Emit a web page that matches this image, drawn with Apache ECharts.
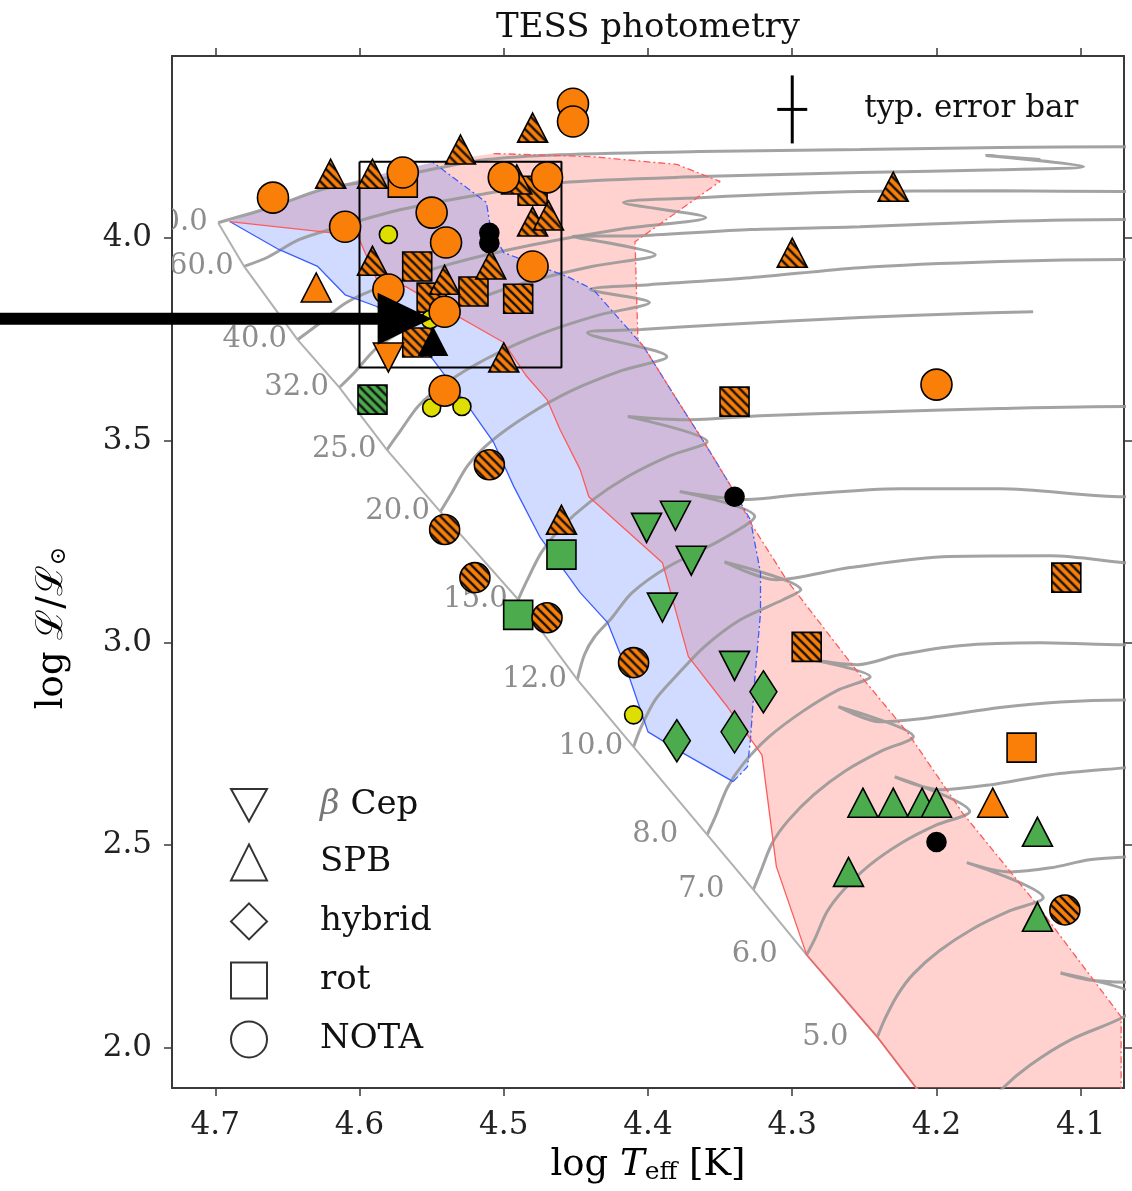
<!DOCTYPE html>
<html><head><meta charset="utf-8">
<script src="https://cdn.jsdelivr.net/npm/echarts@6/dist/echarts.min.js"></script>
<style>html,body{margin:0;padding:0;background:#fff}#c{width:1132px;height:1191px}</style>
</head><body><div id="c"></div>
<script>
// ---------------- data ----------------
const xTicks = [4.1, 4.2, 4.3, 4.4, 4.5, 4.6, 4.7];
const yTicks = [2.0, 2.5, 3.0, 3.5, 4.0];

const zams = [[4.698,4.038],[4.680,3.930],[4.643,3.749],[4.614,3.631],[4.581,3.477],[4.544,3.324],[4.490,3.107],[4.449,2.909],[4.410,2.743],[4.359,2.526],[4.327,2.390],[4.290,2.229],[4.241,2.026],[4.214,1.900],[4.201,1.846]];
const massLabels = ['80.0','60.0','40.0','32.0','25.0','20.0','15.0','12.0','10.0','8.0','7.0','6.0','5.0'];

const track4 = [[4.166,1.846],[4.154,1.900],[4.135,1.957],[4.107,2.019],[4.070,2.076],[4.056,2.118],[4.114,2.184],[4.094,2.167],[4.059,2.160]];
const track5 = [[4.241,2.026],[4.236,2.069],[4.227,2.130],[4.216,2.182],[4.198,2.239],[4.175,2.293],[4.149,2.338],[4.126,2.370],[4.179,2.457],[4.149,2.434],[4.121,2.444],[4.094,2.464],[4.070,2.471],[4.059,2.474]];
const track6 = [[4.290,2.229],[4.284,2.271],[4.276,2.335],[4.265,2.387],[4.247,2.449],[4.224,2.506],[4.200,2.550],[4.177,2.583],[4.229,2.669],[4.198,2.637],[4.163,2.649],[4.121,2.674],[4.070,2.691],[4.059,2.694]];
const track7 = [[4.327,2.390],[4.322,2.434],[4.314,2.504],[4.303,2.560],[4.285,2.625],[4.263,2.684],[4.238,2.733],[4.216,2.768],[4.268,2.842],[4.239,2.805],[4.205,2.815],[4.156,2.840],[4.114,2.854],[4.070,2.859],[4.059,2.859]];
const track8 = [[4.359,2.526],[4.353,2.573],[4.345,2.642],[4.334,2.701],[4.316,2.768],[4.293,2.830],[4.269,2.882],[4.246,2.916],[4.286,2.958],[4.255,2.946],[4.225,2.971],[4.184,2.993],[4.128,3.000],[4.070,2.995],[4.059,2.995]];
const track10 = [[4.410,2.743],[4.405,2.790],[4.395,2.859],[4.381,2.916],[4.361,2.990],[4.336,3.057],[4.306,3.107],[4.294,3.131],[4.347,3.200],[4.311,3.156],[4.260,3.186],[4.191,3.213],[4.121,3.215],[4.070,3.198],[4.059,3.195]];
const track12 = [[4.449,2.909],[4.444,2.971],[4.437,3.015],[4.425,3.062],[4.411,3.124],[4.386,3.188],[4.349,3.255],[4.326,3.312],[4.378,3.374],[4.331,3.354],[4.295,3.366],[4.225,3.381],[4.156,3.381],[4.070,3.361],[4.059,3.361]];
const track15 = [[4.490,3.107],[4.484,3.153],[4.474,3.223],[4.461,3.282],[4.440,3.349],[4.414,3.411],[4.385,3.462],[4.359,3.497],[4.414,3.559],[4.374,3.551],[4.322,3.561],[4.236,3.571],[4.156,3.579],[4.070,3.584],[4.059,3.584]];
const track20 = [[4.544,3.324],[4.536,3.371],[4.525,3.438],[4.509,3.497],[4.484,3.561],[4.453,3.623],[4.418,3.673],[4.387,3.707],[4.442,3.766],[4.405,3.774],[4.350,3.786],[4.253,3.804],[4.184,3.813],[4.133,3.818]];
const track25 = [[4.581,3.477],[4.572,3.522],[4.559,3.586],[4.541,3.640],[4.512,3.702],[4.475,3.762],[4.435,3.809],[4.399,3.841],[4.440,3.873],[4.399,3.885],[4.329,3.902],[4.253,3.927],[4.156,3.942],[4.070,3.947],[4.059,3.947]];
const track32 = [[4.614,3.631],[4.603,3.670],[4.588,3.729],[4.566,3.779],[4.531,3.833],[4.487,3.888],[4.439,3.930],[4.395,3.959],[4.452,4.004],[4.405,4.006],[4.329,4.021],[4.253,4.028],[4.156,4.041],[4.070,4.046],[4.059,4.046]];
const track40 = [[4.643,3.749],[4.629,3.786],[4.609,3.841],[4.581,3.885],[4.536,3.937],[4.479,3.984],[4.417,4.023],[4.360,4.051],[4.417,4.088],[4.364,4.100],[4.253,4.115],[4.156,4.117],[4.070,4.115],[4.059,4.115]];
const track60 = [[4.680,3.930],[4.663,3.954],[4.642,3.996],[4.614,4.028],[4.572,4.070],[4.516,4.108],[4.461,4.137],[4.364,4.152],[4.253,4.162],[4.156,4.169],[4.098,4.177],[4.166,4.204],[4.128,4.194]];
const track80 = [[4.698,4.038],[4.660,4.078],[4.626,4.120],[4.600,4.137],[4.558,4.164],[4.512,4.194],[4.461,4.206],[4.364,4.214],[4.253,4.219],[4.156,4.224],[4.070,4.226],[4.059,4.226]];

// instability regions
const blueRegion = [[4.690,4.041],[4.660,4.080],[4.626,4.120],[4.586,4.157],[4.549,4.187],[4.512,4.088],[4.509,4.021],[4.500,3.964],[4.456,3.905],[4.438,3.873],[4.403,3.732],[4.380,3.601],[4.361,3.495],[4.341,3.378],[4.329,3.304],[4.322,3.173],[4.322,3.074],[4.326,2.909],[4.329,2.760],[4.331,2.694],[4.341,2.657],[4.376,2.728],[4.400,2.780],[4.414,2.926],[4.428,3.050],[4.447,3.124],[4.475,3.262],[4.493,3.386],[4.507,3.495],[4.523,3.576],[4.549,3.700],[4.588,3.831],[4.610,3.860],[4.629,3.930],[4.656,3.972]];
const blueSolid = [[4.690,4.041],[4.656,3.972],[4.629,3.930],[4.610,3.860],[4.588,3.831],[4.549,3.700],[4.523,3.576],[4.507,3.495],[4.493,3.386],[4.475,3.262],[4.447,3.124],[4.428,3.050],[4.414,2.926],[4.400,2.780],[4.376,2.728],[4.341,2.657]];
const blueDashed = [[4.341,2.657],[4.331,2.694],[4.329,2.760],[4.326,2.909],[4.322,3.074],[4.322,3.173],[4.329,3.304],[4.341,3.378],[4.361,3.495],[4.380,3.601],[4.403,3.732],[4.438,3.873],[4.456,3.905],[4.500,3.964],[4.509,4.021],[4.512,4.088],[4.549,4.187]];
const redRegion = [[4.690,4.041],[4.660,4.080],[4.626,4.120],[4.586,4.157],[4.549,4.187],[4.507,4.209],[4.438,4.201],[4.380,4.182],[4.350,4.140],[4.409,3.991],[4.407,3.749],[4.403,3.732],[4.380,3.601],[4.361,3.495],[4.341,3.378],[4.329,3.297],[4.304,3.156],[4.252,2.916],[4.220,2.778],[4.182,2.580],[4.133,2.365],[4.072,2.076],[4.072,1.846],[4.201,1.846],[4.214,1.900],[4.241,2.026],[4.290,2.229],[4.311,2.447],[4.321,2.723],[4.345,2.842],[4.372,2.966],[4.390,3.198],[4.441,3.361],[4.447,3.428],[4.461,3.527],[4.470,3.601],[4.484,3.658],[4.500,3.742],[4.568,3.880],[4.588,3.897],[4.601,4.004],[4.622,4.014]];
const redSolid = [[4.690,4.041],[4.622,4.014],[4.601,4.004],[4.588,3.897],[4.568,3.880],[4.500,3.742],[4.484,3.658],[4.470,3.601],[4.461,3.527],[4.447,3.428],[4.441,3.361],[4.390,3.198],[4.372,2.966],[4.345,2.842],[4.321,2.723],[4.311,2.447],[4.290,2.229],[4.241,2.026],[4.214,1.900],[4.201,1.846]];
const redDashed = [[4.507,4.209],[4.438,4.201],[4.380,4.182],[4.350,4.140],[4.409,3.991],[4.407,3.749],[4.403,3.732],[4.380,3.601],[4.361,3.495],[4.341,3.378],[4.329,3.297],[4.304,3.156],[4.252,2.916],[4.220,2.778],[4.182,2.580],[4.133,2.365],[4.072,2.076],[4.072,1.846]];

const zoomBox = [[4.600,4.189],[4.460,4.189],[4.460,3.680],[4.600,3.680],[4.600,4.189]];
const errorBarCenter = [4.300, 4.318];
const errorBarHalf = [0.0104, 0.084];
const errorBarText = [4.250, 4.318];
const arrowTail = [4.870, 3.801];
const arrowTip = [4.550, 3.801];

// stars
const orangeCircles = [[4.660,4.100],[4.570,4.162],[4.452,4.332],[4.452,4.288],[4.610,4.028],[4.550,4.063],[4.540,3.989],[4.500,4.150],[4.470,4.150],[4.480,3.930],[4.580,3.873],[4.541,3.818],[4.541,3.623],[4.200,3.638]];
const orangeTriUp = [[4.630,3.878],[4.161,2.605]];
const orangeTriDown = [[4.580,3.705]];
const orangeSquares = [[4.570,4.137],[4.141,2.741]];
const hatchTriUp = [[4.620,4.159],[4.591,4.159],[4.530,4.219],[4.480,4.273],[4.491,4.145],[4.480,4.041],[4.469,4.056],[4.591,3.944],[4.541,3.897],[4.509,3.935],[4.500,3.705],[4.460,3.304],[4.230,4.127],[4.300,3.964]];
const hatchSquares = [[4.480,4.117],[4.560,3.930],[4.521,3.868],[4.490,3.850],[4.550,3.853],[4.560,3.742],[4.340,3.596],[4.110,3.161],[4.290,2.990]];
const hatchCircles = [[4.510,3.440],[4.541,3.280],[4.520,3.161],[4.470,3.062],[4.410,2.951],[4.111,2.340]];
const greenTriDown = [[4.401,3.284],[4.381,3.314],[4.370,3.203],[4.390,3.087],[4.340,2.943]];
const greenTriUp = [[4.251,2.605],[4.230,2.605],[4.210,2.605],[4.200,2.605],[4.130,2.533],[4.261,2.434],[4.130,2.323]];
const greenDiamonds = [[4.380,2.758],[4.340,2.780],[4.320,2.879]];
const greenSquares = [[4.460,3.218],[4.490,3.069]];
const greenHatchSquares = [[4.591,3.601]];
const yellowCircles = [[4.580,4.009],[4.551,3.799],[4.550,3.581],[4.529,3.584],[4.410,2.822]];
const blackCircles = [[4.510,4.013],[4.510,3.988],[4.340,3.361],[4.200,2.508]];
const blackTriUp = [[4.549,3.744]];

const legendNames = ['β Cep','SPB','hybrid','rot','NOTA'];

// ---------------- styling / build ----------------
const FONT = '"DejaVu Serif", "Liberation Serif", serif';
const ORANGE = '#fa7f08', GREEN = '#4cab4c', YELLOW = '#dede00';
const TRI_DOWN = 'path://M0,0L20,0L10,18Z';

// diagonal hatch; symbols are drawn in a [-1,1] box scaled by size/2, so undo that scale
function hatch(bg, size) {
  const w = Array.isArray(size) ? size[0] : size, h = Array.isArray(size) ? size[1] : size;
  const s = 9, c = document.createElement('canvas');
  c.width = s; c.height = s;
  const g = c.getContext('2d');
  g.fillStyle = bg; g.fillRect(0, 0, s, s);
  g.strokeStyle = '#111'; g.lineWidth = 2.3; g.beginPath();
  for (const k of [-s, 0, s]) { g.moveTo(k - 1, -1); g.lineTo(k + s + 1, s + 1); }
  g.stroke();
  return { image: c, repeat: 'repeat', scaleX: 2 / w, scaleY: 2 / h };
}

function scat(data, symbol, size, color, z, extra) {
  return Object.assign({
    type: 'scatter', data, symbol, symbolSize: size, z, silent: true, clip: false,
    itemStyle: { color, borderColor: '#000', borderWidth: 1.6, opacity: 1 },
    emphasis: { disabled: true }
  }, extra || {});
}
function line(data, color, width, type, z, smooth) {
  return { type: 'line', data, symbol: 'none', z, silent: true, smooth: smooth || false,
    lineStyle: { color, width, type }, emphasis: { disabled: true } };
}
function poly(pts, fill, z) {
  return { type: 'custom', coordinateSystem: 'cartesian2d', clip: true, silent: true, z,
    data: [[4.4, 3.0]],
    renderItem: (p, api) => ({ type: 'polygon', shape: { points: pts.map(q => api.coord(q)) },
      style: { fill: fill, stroke: null } }) };
}

const tracks = [track4, track5, track6, track7, track8, track10, track12, track15, track20, track25, track32, track40, track60, track80];
const series = [];
series.push(poly(redRegion, 'rgba(255,118,108,0.33)', 1));
series.push(poly(blueRegion, 'rgba(100,135,255,0.30)', 1));
tracks.forEach(t => series.push(line(t, 'rgba(150,150,150,0.88)', 3, 'solid', 2, 0.3)));
series.push(line(zams, '#b0b0b0', 2, 'solid', 2));
series.push(line(blueSolid, '#3b5cff', 1.3, 'solid', 3));
series.push(line(blueDashed, '#3b5cff', 1.3, [7, 3, 2, 3], 3));
series.push(line(redSolid, '#ff5a5a', 1.3, 'solid', 3));
series.push(line(redDashed, '#ff5a5a', 1.3, [7, 3, 2, 3], 3));
// mass labels
series.push({ type: 'custom', coordinateSystem: 'cartesian2d', clip: true, silent: true, z: 4,
  data: massLabels.map((m, i) => [zams[i][0], zams[i][1], i]),
  renderItem: (p, api) => {
    const c = api.coord([api.value(0), api.value(1)]);
    return { type: 'text', x: c[0] - 75, y: c[1],
      style: { text: massLabels[api.value(2)], fill: '#8d8d8d', font: '29px ' + FONT, align: 'left', verticalAlign: 'middle' } };
  } });
// zoom box
series.push(line(zoomBox, '#000', 2, 'solid', 5));
// error bar + text
series.push({ type: 'custom', coordinateSystem: 'cartesian2d', clip: false, silent: true, z: 5,
  data: [errorBarCenter],
  renderItem: (p, api) => {
    const cx = errorBarCenter[0], cy = errorBarCenter[1];
    const a = api.coord([cx, cy - errorBarHalf[1]]), b = api.coord([cx, cy + errorBarHalf[1]]);
    const l = api.coord([cx + errorBarHalf[0], cy]), r = api.coord([cx - errorBarHalf[0], cy]);
    const t = api.coord(errorBarText);
    return { type: 'group', children: [
      { type: 'line', shape: { x1: a[0], y1: a[1], x2: b[0], y2: b[1] }, style: { stroke: '#000', lineWidth: 3 } },
      { type: 'line', shape: { x1: l[0], y1: l[1], x2: r[0], y2: r[1] }, style: { stroke: '#000', lineWidth: 3 } },
      { type: 'text', x: t[0], y: t[1], style: { text: 'typ. error bar', fill: '#111', font: '31px ' + FONT, align: 'left', verticalAlign: 'middle' } }
    ] };
  } });
// stars (bottom -> top)
const SQ = 29, TRI = [30, 29], CIR = 30;
series.push(scat(greenSquares, 'rect', SQ, GREEN, 6));
series.push(scat(greenDiamonds, 'diamond', [27, 42], GREEN, 6));
series.push(scat(greenTriDown, TRI_DOWN, TRI, GREEN, 6));
series.push(scat(greenTriUp, 'triangle', TRI, GREEN, 6));
series.push(scat(greenHatchSquares, 'rect', SQ, hatch(GREEN, SQ), 7));
series.push(scat(hatchSquares, 'rect', SQ, hatch(ORANGE, SQ), 7));
series.push(scat(hatchTriUp, 'triangle', TRI, hatch(ORANGE, TRI), 7));
series.push(scat(hatchCircles, 'circle', CIR, hatch(ORANGE, CIR), 7));
series.push(scat(yellowCircles, 'circle', 18, YELLOW, 8));
series.push(scat(blackCircles, 'circle', 19, '#000', 8));
series.push(scat(blackTriUp, 'triangle', [28, 27], '#000', 8));
series.push(scat(orangeSquares, 'rect', SQ, ORANGE, 9));
series.push(scat(orangeTriUp, 'triangle', TRI, ORANGE, 9));
series.push(scat(orangeTriDown, TRI_DOWN, TRI, ORANGE, 9));
series.push(scat(orangeCircles, 'circle', 31, ORANGE, 9));
// arrow (annotation)
series.push({ type: 'custom', coordinateSystem: 'cartesian2d', clip: false, silent: true, z: 12,
  data: [arrowTip],
  renderItem: (p, api) => {
    const t = api.coord(arrowTail), h = api.coord(arrowTip);
    return { type: 'group', children: [
      { type: 'line', shape: { x1: t[0], y1: t[1], x2: h[0] - 50, y2: h[1] }, style: { stroke: '#000', lineWidth: 12 } },
      { type: 'polygon', shape: { points: [[h[0], h[1]], [h[0] - 54, h[1] - 26], [h[0] - 54, h[1] + 26]] }, style: { fill: '#000' } }
    ] };
  } });
// legend dummies
const legendIcons = [TRI_DOWN, 'triangle', 'diamond', 'rect', 'circle'];
legendNames.forEach((n, i) => series.push({ type: 'scatter', name: n, data: [], symbol: legendIcons[i],
  itemStyle: { color: '#fff', borderColor: '#000', borderWidth: 2 } }));

function axisCommon(min, max, ticks, pos, show, inverse, margin) {
  return { type: 'value', min, max, inverse, position: pos, splitLine: { show: false },
    axisLine: { show: true, onZero: false, lineStyle: { color: '#3a3a3a', width: 2 } },
    axisTick: { show: true, inside: false, length: 8, customValues: ticks, lineStyle: { color: '#3a3a3a', width: 1.5 } },
    axisLabel: { show, customValues: ticks, formatter: v => v.toFixed(1), fontFamily: FONT, fontSize: 31, color: '#222', margin } };
}

const option = {
  animation: false,
  backgroundColor: '#fff',
  grid: { left: 172, right: 8, top: 56, bottom: 103 },
  xAxis: [axisCommon(4.07, 4.73, xTicks, 'bottom', true, true, 22), axisCommon(4.07, 4.73, xTicks, 'top', false, true, 16)],
  yAxis: [axisCommon(1.90, 4.45, yTicks, 'left', true, false, 20), axisCommon(1.90, 4.45, yTicks, 'right', false, false, 16)],
  legend: {
    data: legendNames.map((n, i) => ({ name: n, icon: legendIcons[i] })),
    orient: 'vertical', left: 230, top: 788, itemWidth: 36, itemHeight: 36, itemGap: 21, padding: 0,
    selectedMode: false,
    itemStyle: { color: '#fff', borderColor: '#000', borderWidth: 2 },
    formatter: n => n === 'β Cep' ? '{b|β} Cep' : n,
    textStyle: { fontFamily: FONT, fontSize: 34, color: '#111', padding: [0, 0, 0, 48],
      rich: { b: { fontFamily: FONT, fontSize: 34, fontStyle: 'italic', color: '#777' } } }
  },
  graphic: [
    { type: 'text', x: 648, y: 28, style: { text: 'TESS photometry', font: '34px ' + FONT, fill: '#111', align: 'center', verticalAlign: 'middle' } },
    { type: 'text', x: 648, y: 1165, style: { text: '{n|log }{i|T}{s|eff}{n| [K]}', align: 'center', verticalAlign: 'middle',
        rich: { n: { fontFamily: FONT, fontSize: 37, color: '#111' }, i: { fontFamily: FONT, fontSize: 37, fontStyle: 'italic', color: '#111' },
                s: { fontFamily: FONT, fontSize: 25, color: '#111', verticalAlign: 'bottom', padding: [14, 0, 0, 0] } } } },
    { type: 'text', x: 52, y: 628, rotation: Math.PI / 2, style: { text: '{n|log ℒ/ℒ}{s|⊙}', align: 'center', verticalAlign: 'middle',
        rich: { n: { fontFamily: FONT, fontSize: 37, color: '#111' }, s: { fontFamily: FONT, fontSize: 22, color: '#111', verticalAlign: 'bottom', padding: [14, 0, 0, 0] } } } }
  ],
  series
};
const chart = echarts.init(document.getElementById('c'));
chart.setOption(option);
</script></body></html>
